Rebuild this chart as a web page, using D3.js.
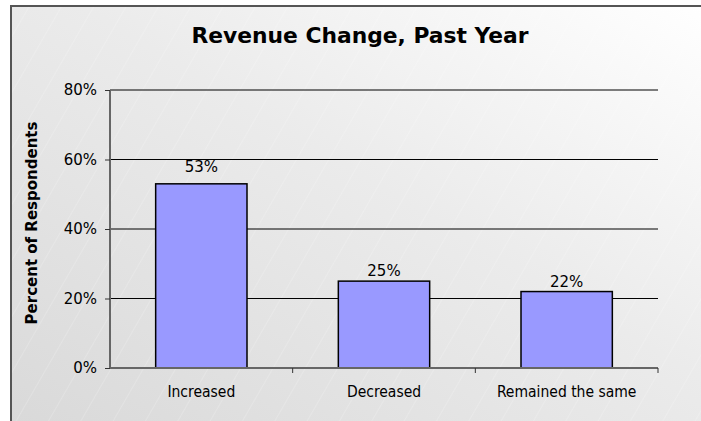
<!DOCTYPE html>
<html>
<head>
<meta charset="utf-8">
<script src="https://cdn.jsdelivr.net/npm/d3@7"></script>
<style>
  html, body { margin: 0; padding: 0; background: #ffffff; }
  svg { display: block; }
  text { font-family: Tahoma, "DejaVu Sans", Verdana, sans-serif; fill: #000; }
</style>
</head>
<body>
<svg id="chart" width="701" height="421"></svg>
<script>
// Survey results: change in revenue over the past year
const categories = ["Increased", "Decreased", "Remained the same"];
const values = [53, 25, 22];
const yTicks = [0, 20, 40, 60, 80];
const chartTitle = "Revenue Change, Past Year";
const yTitle = "Percent of Respondents";

const W = 701, H = 421;
const svg = d3.select("#chart");
const defs = svg.append("defs");

// Soft diagonal gradient for the chart frame
const grad = defs.append("linearGradient")
  .attr("id", "bg").attr("x1", "0").attr("y1", "1").attr("x2", "1").attr("y2", "0");
grad.append("stop").attr("offset", "0").attr("stop-color", "#d9d9d9");
grad.append("stop").attr("offset", "0.55").attr("stop-color", "#ebebeb");
grad.append("stop").attr("offset", "1").attr("stop-color", "#ffffff");

// Faint diagonal hatching over the fill
const pat = defs.append("pattern")
  .attr("id", "hatch").attr("patternUnits", "userSpaceOnUse")
  .attr("width", 28).attr("height", 28)
  .attr("patternTransform", "rotate(-60)");
pat.append("line").attr("x1", 0).attr("y1", 0).attr("x2", 28).attr("y2", 0)
  .attr("stroke", "#ffffff").attr("stroke-opacity", 0.35).attr("stroke-width", 1);

// Frame
svg.append("rect").attr("x", 11).attr("y", 6).attr("width", W).attr("height", H)
  .attr("fill", "url(#bg)");
svg.append("rect").attr("x", 11).attr("y", 6).attr("width", W).attr("height", H)
  .attr("fill", "url(#hatch)");
svg.append("rect").attr("x", 11).attr("y", 6).attr("width", W).attr("height", H)
  .attr("fill", "none").attr("stroke", "#555").attr("stroke-width", 2);

// Plot area
const plot = { left: 110, right: 658, top: 90, bottom: 368 };

const x = d3.scaleBand()
  .domain(categories)
  .range([plot.left, plot.right])
  .paddingInner(0.5)
  .paddingOuter(0.25);

const y = d3.scaleLinear()
  .domain([0, 80])
  .range([plot.bottom, plot.top]);

// Gridlines
svg.append("g").selectAll("line")
  .data(yTicks.filter(d => d > 0))
  .join("line")
  .attr("x1", plot.left).attr("x2", plot.right)
  .attr("y1", d => y(d)).attr("y2", d => y(d))
  .attr("stroke", "#000").attr("stroke-width", 1);

// Bars
svg.append("g").selectAll("rect")
  .data(values)
  .join("rect")
  .attr("x", (d, i) => x(categories[i]))
  .attr("width", x.bandwidth())
  .attr("y", d => y(d))
  .attr("height", d => y(0) - y(d))
  .attr("fill", "#9999ff")
  .attr("stroke", "#000")
  .attr("stroke-width", 1.5);

// Y axis
const yAxis = svg.append("g")
  .attr("transform", `translate(${plot.left},0)`)
  .call(d3.axisLeft(y).tickValues(yTicks).tickFormat(d => d + "%").tickSize(5).tickPadding(8));
yAxis.select(".domain").attr("stroke", "#666").attr("stroke-width", 2).attr("d", `M0,${plot.top}V${plot.bottom}`);
yAxis.selectAll(".tick line").attr("stroke", "#333");
yAxis.selectAll(".tick text")
  .style("font-family", 'Tahoma, "DejaVu Sans", sans-serif')
  .style("font-size", "15px").attr("fill", "#000");

// X axis: ticks sit between categories
const xAxisG = svg.append("g").attr("transform", `translate(0,${plot.bottom})`);
xAxisG.append("line")
  .attr("x1", plot.left).attr("x2", plot.right)
  .attr("y1", 0).attr("y2", 0)
  .attr("stroke", "#666").attr("stroke-width", 2);
const step = x.step();
const boundaries = d3.range(categories.length + 1).map(i => plot.left + i * step);
xAxisG.selectAll("line.tk")
  .data(boundaries.slice(1))
  .join("line").attr("class", "tk")
  .attr("x1", d => d).attr("x2", d => d)
  .attr("y1", 0).attr("y2", 5)
  .attr("stroke", "#333");
xAxisG.selectAll("text")
  .data(categories)
  .join("text")
  .attr("x", d => x(d) + x.bandwidth() / 2)
  .attr("y", 29)
  .attr("text-anchor", "middle")
  .style("font-family", '"DejaVu Sans Condensed", Tahoma, "DejaVu Sans", sans-serif')
  .style("font-stretch", "condensed")
  .style("font-size", "15.5px")
  .text(d => d);

// Value labels
const labelLift = [12, 5, 5];
svg.append("g").selectAll("text")
  .data(values)
  .join("text")
  .attr("x", (d, i) => x(categories[i]) + x.bandwidth() / 2)
  .attr("y", (d, i) => y(d) - labelLift[i])
  .attr("text-anchor", "middle")
  .style("font-size", "15px")
  .text(d => d + "%");

// Title
svg.append("text")
  .attr("x", 360).attr("y", 43)
  .attr("text-anchor", "middle")
  .style("font-size", "21.8px").style("font-weight", "bold")
  .text(chartTitle);

// Y axis title
svg.append("text")
  .attr("transform", `translate(37,${(plot.top + plot.bottom) / 2 - 6}) rotate(-90)`)
  .attr("text-anchor", "middle")
  .style("font-size", "15px").style("font-weight", "bold")
  .text(yTitle);
</script>
</body>
</html>
